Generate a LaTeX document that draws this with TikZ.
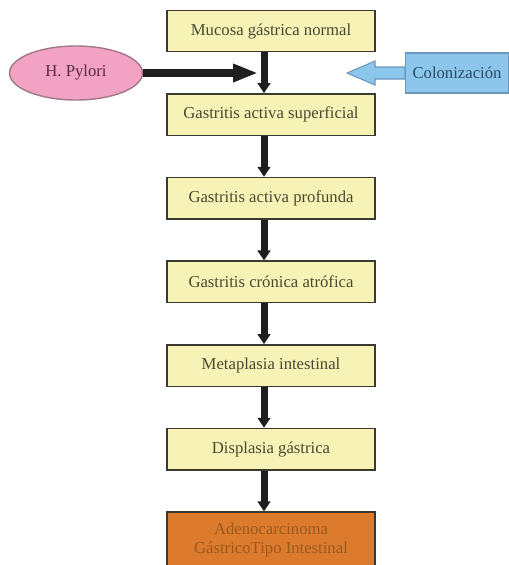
\documentclass[tikz,border=0pt]{standalone}
\usepackage{fontspec}
\setmainfont{Liberation Serif}
\usetikzlibrary{arrows.meta, positioning, calc, shapes.geometric}
\definecolor{cajaamarilla}{HTML}{F7F3B6}
\definecolor{bordeoscuro}{HTML}{3C3A30}
\definecolor{textooliva}{HTML}{4A4832}
\definecolor{rosapylori}{HTML}{F2A2C2}
\definecolor{bordepylori}{HTML}{A07888}
\definecolor{textopylori}{HTML}{5A2A40}
\definecolor{azulcol}{HTML}{8CC6EA}
\definecolor{azulborde}{HTML}{6A98BC}
\definecolor{azultexto}{HTML}{2A4A6A}
\definecolor{naranjaca}{HTML}{DC7A2E}
\definecolor{textonaranja}{HTML}{9C5A1C}
\definecolor{negroflecha}{HTML}{1E1E1E}

\begin{document}
\begin{tikzpicture}[x=0.02cm, y=-0.02cm, node distance=0.815cm,
    etapa/.style={draw=bordeoscuro, fill=cajaamarilla, line width=0.8pt,
      minimum width=4.16cm, minimum height=0.83cm, inner sep=2pt,
      text=textooliva, font=\fontsize{9.5}{11}\selectfont},
    flecha/.style={draw=negroflecha, line width=0.14cm,
      -{Triangle[length=0.2cm, width=0.25cm]}}]
  \useasboundingbox (0,0) rectangle (509,565);
  \clip (0,0) rectangle (509,565);
  % Etapas de la secuencia
  \node[etapa] (mucosa) at (271,31) {Mucosa gástrica normal};
  \node[etapa, below=of mucosa] (superficial) {Gastritis activa superficial};
  \node[etapa, below=of superficial] (profunda) {Gastritis activa profunda};
  \node[etapa, below=of profunda] (atrofica) {Gastritis crónica atrófica};
  \node[etapa, below=of atrofica] (metaplasia) {Metaplasia intestinal};
  \node[etapa, below=of metaplasia] (displasia) {Displasia gástrica};
  \node[etapa, below=of displasia, fill=naranjaca, text=textonaranja,
    minimum height=1.12cm, align=center] (adeno) {Adenocarcinoma\\GástricoTipo Intestinal};
  % Flechas entre etapas
  \coordinate (eje) at (264,0);
  \foreach \a/\b in {mucosa/superficial, superficial/profunda, profunda/atrofica,
      atrofica/metaplasia, metaplasia/displasia, displasia/adeno} {
    \draw[flecha] (\a.south -| eje) -- (\b.north -| eje);
  }
  % Agente: H. Pylori
  \node[ellipse, draw=bordepylori, fill=rosapylori, line width=0.8pt,
    minimum width=2.66cm, minimum height=1.08cm, text=textopylori,
    font=\fontsize{9.5}{11}\selectfont] (pylori) at (76,73) {H. Pylori};
  \coordinate (pyfin) at (258,73);
  \draw[negroflecha, line width=0.16cm, -{Triangle[length=0.5cm, width=0.34cm]}]
    (pylori.east) -- (pyfin);
  % Colonizacion
  \node[draw=azulborde, fill=azulcol, line width=0.6pt, anchor=west,
    minimum height=0.8cm, inner xsep=0.14cm, text=azultexto,
    font=\fontsize{9.5}{11}\selectfont] (colon) at (405,73) {Colonización};
  \draw[draw=azulborde, fill=azulcol, line width=0.6pt]
    (colon.west) ++(0,-6) -- ++(-30,0) -- ++(0,-6) -- ++(-28,12)
    -- ++(28,12) -- ++(0,-6) -- ++(30,0) -- cycle;
\end{tikzpicture}
\end{document}
